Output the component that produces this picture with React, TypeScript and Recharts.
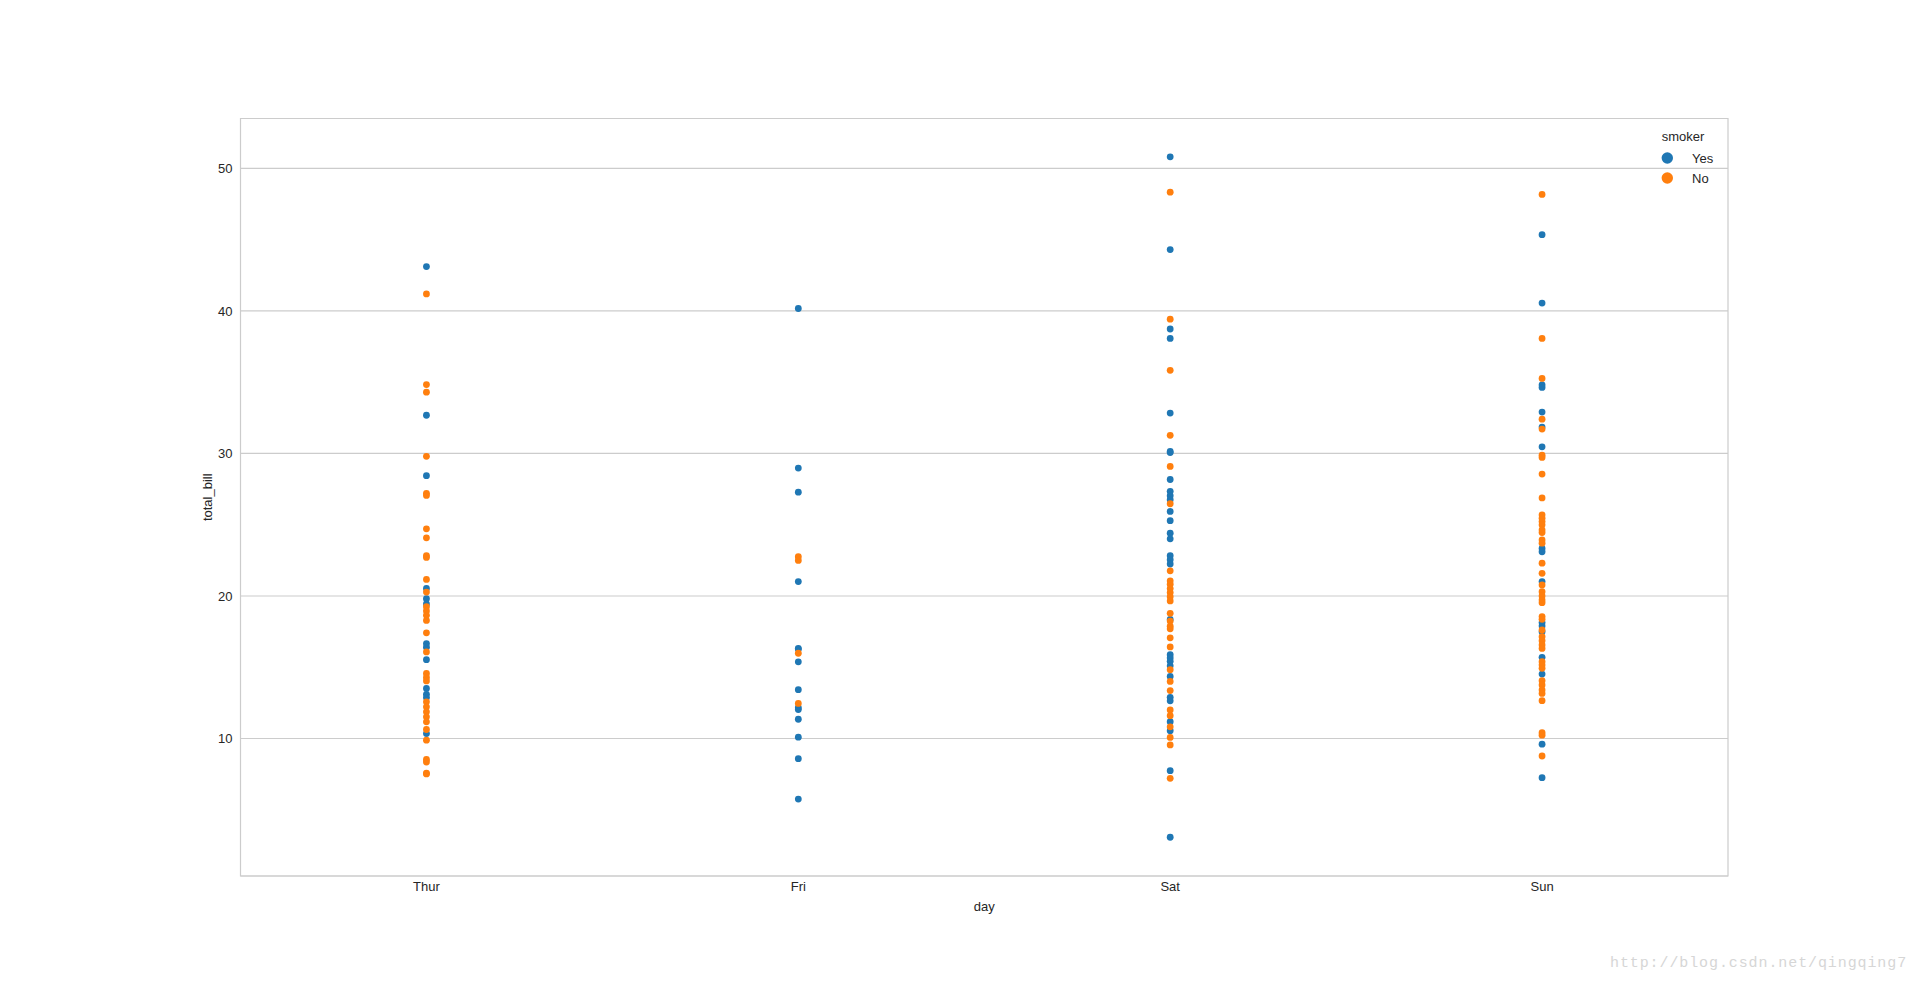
import {
  ScatterChart,
  Scatter,
  XAxis,
  YAxis,
  CartesianGrid,
  ReferenceArea,
  Legend,
  Label,
} from "recharts";

const days = ["Thur", "Fri", "Sat", "Sun"];
const smokerLevels = ["Yes", "No"];
const yTicks = [10, 20, 30, 40, 50];

// total_bill per day, smoker = Yes
const thurYes = [43.11, 32.68, 28.44, 20.53, 19.81, 19.44, 16.66, 16.4, 15.53, 13.51, 13.1, 12.87, 10.34];
const friYes = [40.17, 28.97, 27.28, 21.01, 16.32, 16.27, 15.38, 13.42, 12.16, 12.03, 11.35, 10.09, 8.58, 5.75];
const satYes = [
  50.81, 44.3, 38.73, 38.07, 32.83, 30.14, 30.06, 28.17, 27.34, 27.03, 26.75, 25.93, 25.28, 24.4, 24.01,
  22.82, 22.54, 22.24, 18.35, 15.88, 15.65, 15.41, 15.1, 14.35, 12.89, 12.64, 11.18, 10.54, 7.74, 3.07,
];
const sunYes = [45.35, 40.55, 34.81, 34.63, 32.9, 31.85, 30.46, 23.33, 23.1, 21.01, 18.13, 17.89, 17.49, 15.69, 14.52, 9.6, 7.25];

// total_bill per day, smoker = No
const thurNo = [
  41.19, 34.83, 34.3, 29.8, 27.2, 27.05, 24.71, 24.08, 22.82, 22.7, 21.16, 20.27, 19.25, 18.95, 18.64,
  18.28, 17.41, 16.07, 14.56, 14.28, 14.04, 12.57, 12.22, 11.87, 11.52, 11.17, 10.63, 9.88, 8.53, 8.35, 7.56, 7.51,
];
const friNo = [22.75, 22.49, 15.98, 12.46];
const satNo = [
  48.33, 39.42, 35.83, 31.27, 29.09, 26.47, 21.76, 21.06, 20.82, 20.52, 20.24, 19.95, 19.65, 18.78, 18.24,
  17.88, 17.69, 17.06, 16.42, 14.82, 14.0, 13.36, 12.0, 11.6, 10.82, 10.07, 9.55, 7.2,
];
const sunNo = [
  48.17, 38.07, 35.26, 32.4, 31.71, 29.88, 29.72, 28.55, 26.88, 25.69, 25.46, 25.22, 24.99, 24.64, 24.45,
  23.93, 23.7, 22.3, 21.59, 20.77, 20.3, 20.0, 19.72, 19.53, 18.55, 18.36, 17.61, 17.14, 16.86, 16.56,
  16.32, 15.39, 15.15, 14.92, 14.05, 13.75, 13.4, 13.16, 12.65, 10.4, 10.23, 8.77,
];

const toPoints = (cols: number[][]) =>
  cols.flatMap((vals, i) => vals.map((v) => ({ day: i, total_bill: v })));

const yesPoints = toPoints([thurYes, friYes, satYes, sunYes]);
const noPoints = toPoints([thurNo, friNo, satNo, sunNo]);

const COLORS = ["#1f77b4", "#ff7f0e"];
const TEXT = "#262626";
const FONT = '"Liberation Sans", Arial, sans-serif';

const Dot = (props: any) => <circle cx={props.cx} cy={props.cy} r={3.4} fill={props.fill} />;

const XTick = ({ x, y, payload }: any) => (
  <text x={x} y={y} dy="0.71em" textAnchor="middle" fill={TEXT} fontSize={13}>
    {days[payload.value]}
  </text>
);

const YTick = ({ x, y, payload }: any) => (
  <text x={x} y={y} dy="0.355em" textAnchor="end" fill={TEXT} fontSize={13}>
    {payload.value}
  </text>
);

// legend keeps hue order (Yes, No) whatever order recharts hands it over
const renderLegend = ({ payload }: any) => {
  const items = [...(payload || [])].sort(
    (a: any, b: any) => smokerLevels.indexOf(a.value) - smokerLevels.indexOf(b.value)
  );
  return (
    <svg width={100} height={75} style={{ fontFamily: FONT }}>
      <text x={11.7} y={21.2} fill={TEXT} fontSize={13}>
        smoker
      </text>
      {items.map((p: any, i: number) => (
        <g key={i}>
          <circle cx={17.3} cy={38 + i * 20} r={5.7} fill={p.color} />
          <text x={42} y={38 + i * 20} dy="0.355em" fill={TEXT} fontSize={13}>
            {p.value}
          </text>
        </g>
      ))}
    </svg>
  );
};

export default function App() {
  return (
    <div style={{ position: "absolute", left: 0, top: 0, width: 1920, height: 984, background: "#fff" }}>
      <ScatterChart
        width={1920}
        height={984}
        margin={{ top: 118.5, right: 192, bottom: 68, left: 180.5 }}
        style={{ fontFamily: FONT }}
      >
        <CartesianGrid vertical={false} stroke="#cccccc" strokeWidth={1.1} />
        <ReferenceArea
          x1={-0.5}
          x2={3.5}
          y1={0.35}
          y2={53.5}
          fill="none"
          fillOpacity={0}
          stroke="#cccccc"
          strokeWidth={1.2}
          ifOverflow="visible"
        />
        <XAxis
          type="number"
          dataKey="day"
          domain={[-0.5, 3.5]}
          ticks={[0, 1, 2, 3]}
          interval={0}
          height={40}
          axisLine={false}
          tickLine={false}
          tickMargin={0}
          tick={XTick}
          allowDataOverflow
        >
          <Label
            content={({ viewBox }: any) => (
              <text
                x={viewBox.x + viewBox.width / 2}
                y={910.5}
                textAnchor="middle"
                fill={TEXT}
                fontSize={13}
              >
                day
              </text>
            )}
          />
        </XAxis>
        <YAxis
          type="number"
          dataKey="total_bill"
          domain={[0.35, 53.5]}
          ticks={yTicks}
          interval={0}
          width={60}
          axisLine={false}
          tickLine={false}
          tickMargin={2}
          tick={YTick}
          allowDataOverflow
        >
          <Label
            content={({ viewBox }: any) => {
              const cy = viewBox.y + viewBox.height / 2;
              return (
                <text
                  x={207}
                  y={cy}
                  dy="0.355em"
                  textAnchor="middle"
                  fill={TEXT}
                  fontSize={13}
                  transform={`rotate(-90 207 ${cy})`}
                >
                  total_bill
                </text>
              );
            }}
          />
        </YAxis>
        <Legend
          layout="vertical"
          align="center"
          verticalAlign="middle"
          content={renderLegend}
          wrapperStyle={{ position: "absolute", left: 1650, top: 120, width: 100, height: 75 }}
        />
        <Scatter name={smokerLevels[0]} data={yesPoints} fill={COLORS[0]} shape={Dot} isAnimationActive={false} />
        <Scatter name={smokerLevels[1]} data={noPoints} fill={COLORS[1]} shape={Dot} isAnimationActive={false} />
      </ScatterChart>
      <div
        style={{
          position: "absolute",
          left: 1610,
          top: 955.5,
          fontFamily: '"Liberation Mono", monospace',
          fontSize: 15,
          lineHeight: "15px",
          letterSpacing: 0.9,
          color: "#d6d6d6",
          whiteSpace: "nowrap",
        }}
      >
        http://blog.csdn.net/qingqing7
      </div>
    </div>
  );
}
